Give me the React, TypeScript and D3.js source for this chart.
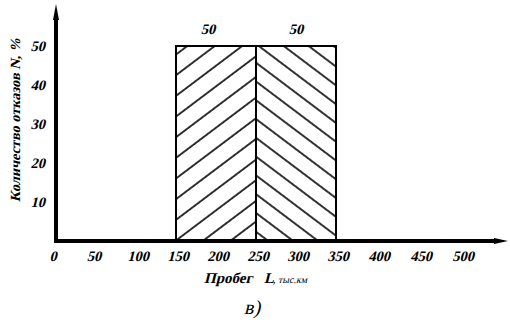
import React from "react";
import * as d3 from "d3";

const binStart = [150, 250];
const binEnd = [250, 350];
const values = [50, 50];
const valueLabels = ["50", "50"];
const xTicks = [0, 50, 100, 150, 200, 250, 300, 350, 400, 450, 500];
const yTicks = [10, 20, 30, 40, 50];
const yTitle = "Количество отказов N, %";
const xTitleMain = "Пробег";
const xTitleVar = "L";
const xTitleUnit = ", тыс.км";
const caption = "в)";

const W = 510;
const H = 322;
const font = "'Liberation Serif', 'DejaVu Serif', serif";

function IText({ x, y, anchor = "start", size = 14.5, weight = "bold", skew = -14, rotate = 0, children, ...rest }: any) {
  return (
    <g transform={`translate(${x},${y}) rotate(${rotate}) skewX(${skew})`}>
      <text
        x={0}
        y={0}
        textAnchor={anchor}
        fontFamily={font}
        fontWeight={weight}
        fontSize={size}
        {...rest}
      >
        {children}
      </text>
    </g>
  );
}

export default function App() {
  const x = d3.scaleLinear().domain([0, 500]).range([56, 456]);
  const y = d3.scaleLinear().domain([0, 50]).range([241, 46]);
  const x0 = x(0);
  const y0 = y(0);
  const hatchAngles = [-37, 37];
  const hatchGaps = [16.5, 15];

  return (
    <svg
      width={W}
      height={H}
      style={{ position: "absolute", left: 0, top: 0, background: "#fff" }}
    >
      <defs>
        {hatchAngles.map((a, i) => (
          <pattern
            key={i}
            id={`hatch${i}`}
            patternUnits="userSpaceOnUse"
            width={10}
            height={hatchGaps[i]}
            patternTransform={`rotate(${a})`}
          >
            <line x1={0} y1={1} x2={10} y2={1} stroke="#000" strokeWidth={1.6} />
          </pattern>
        ))}
      </defs>

      {/* bars */}
      {values.map((v, i) => (
        <g key={i}>
          <rect
            x={x(binStart[i])}
            y={y(v)}
            width={x(binEnd[i]) - x(binStart[i])}
            height={y0 - y(v)}
            fill={`url(#hatch${i})`}
            stroke="#000"
            strokeWidth={2}
          />
          <IText
            x={(x(binStart[i]) + x(binEnd[i])) / 2 - (i === 0 ? 8 : 0)}
            y={y(v) - 12}
            anchor="middle"
          >
            {valueLabels[i]}
          </IText>
        </g>
      ))}

      {/* axes */}
      <line x1={x0} y1={y0} x2={x0} y2={14} stroke="#000" strokeWidth={4} />
      <path d={`M${x0 - 3},${20} L${x0},${4} L${x0 + 3},${20} Z`} fill="#000" />
      <line x1={x0 - 2} y1={y0} x2={496} y2={y0} stroke="#000" strokeWidth={4} />
      <path d={`M${494},${y0 - 3} L${508},${y0} L${494},${y0 + 3} Z`} fill="#000" />

      {/* x tick labels */}
      {xTicks.map((t) => (
        <IText
          key={t}
          x={x(t) + (t === 0 ? -3 : t === 50 ? -2 : t >= 400 ? 3 + (t - 400) / 25 : 2)}
          y={261}
          anchor="middle"
        >
          {t}
        </IText>
      ))}

      {/* y tick labels */}
      {yTicks.map((t) => (
        <IText key={t} x={45} y={y(t) + 5} anchor="end">
          {t}
        </IText>
      ))}

      {/* y title */}
      <IText
        x={20}
        y={120}
        rotate={-90}
        anchor="middle"
        size={14}
        textLength={164}
        lengthAdjust="spacingAndGlyphs"
      >
        {yTitle}
      </IText>

      {/* x title */}
      <IText x={204} y={283} size={15}>
        {xTitleMain}
      </IText>
      <IText x={264} y={283} size={15}>
        {xTitleVar}
      </IText>
      <IText x={273} y={283} size={10} weight="normal">
        {xTitleUnit}
      </IText>

      {/* caption */}
      <IText x={252} y={314} anchor="middle" size={20} weight="normal">
        {caption}
      </IText>
    </svg>
  );
}
